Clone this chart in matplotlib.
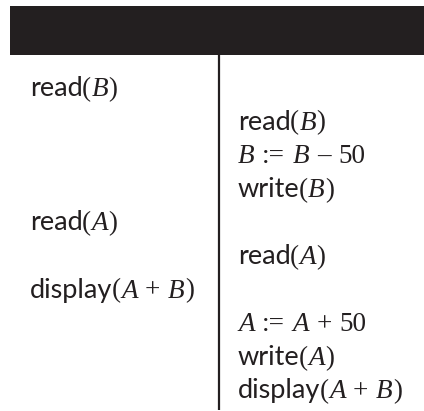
import matplotlib
matplotlib.use("Agg")
import matplotlib.pyplot as plt
from matplotlib.patches import Rectangle

# schedule steps, one per row; None means that column does nothing at that step
left_ops = ["read(B)", None, None, None, "read(A)", None, "display(A + B)", None, None, None]
right_ops = [None, "read(B)", "B := B – 50", "write(B)", None, "read(A)", None,
             "A := A + 50", "write(A)", "display(A + B)"]

INK = "#231f20"
W, H = 424, 411
FS = 19.5
fonts = {
    "word": dict(family="Lato", style="normal"),
    "var": dict(family="Liberation Serif", style="italic"),
    "sym": dict(family="Liberation Serif", style="normal"),
}


def split_op(op):
    segs = []
    for ch in op:
        if ch == " ":
            kind = "space"
        elif ch in "AB":
            kind = "var"
        elif ch.islower():
            kind = "word"
        else:
            kind = "sym"
        if segs and segs[-1][1] == kind:
            segs[-1][0] += ch
        else:
            segs.append([ch, kind])
    return segs


def draw_op(ax, renderer, x, y, op):
    prev = None
    for txt, kind in split_op(op):
        if kind == "space":
            x += 7 * len(txt)
            prev = kind
            continue
        if prev == "word":
            x -= 1.5   # keep the bracket tight to the word
        t = ax.text(x, y, txt, fontsize=FS, color=INK, va="baseline", ha="left",
                    **fonts[kind])
        bb = t.get_window_extent(renderer)
        x += bb.width + 0.5
        prev = kind


fig = plt.figure(figsize=(W / 100, H / 100), dpi=100)
ax = fig.add_axes([0, 0, 1, 1])
ax.set_xlim(0, W)
ax.set_ylim(H, 0)
ax.axis("off")
renderer = fig.canvas.get_renderer()

# header bar and column divider
ax.add_patch(Rectangle((10, 6), W - 10, 49, color=INK, lw=0))
ax.plot([219, 219], [55, 410], color=INK, lw=1.6, solid_capstyle="butt")

y0, step = 96, 33.6
for i, (l, r) in enumerate(zip(left_ops, right_ops)):
    y = y0 + step * i
    if l:
        draw_op(ax, renderer, 30, y, l)
    if r:
        draw_op(ax, renderer, 238, y, r)

fig.savefig("out.png", dpi=100)
